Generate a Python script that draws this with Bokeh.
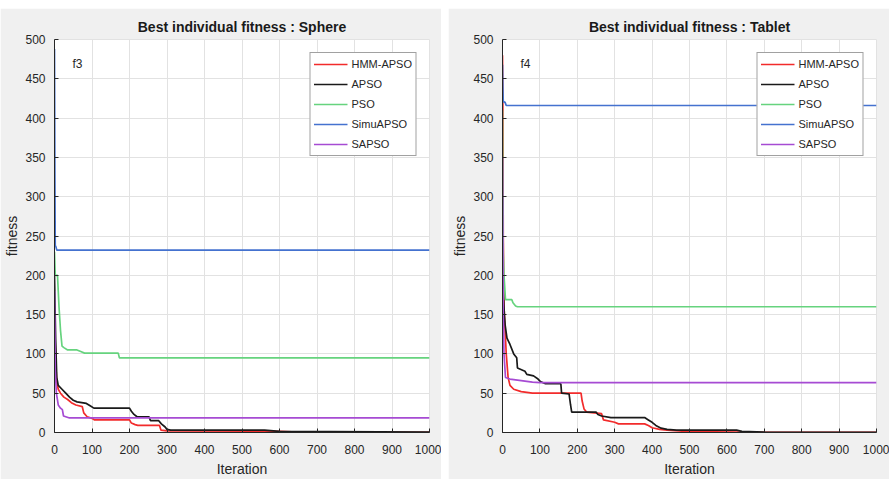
from bokeh.plotting import figure
from bokeh.layouts import row, column
from bokeh.models import Spacer, Label, SingleIntervalTicker, Range1d
from bokeh.embed import file_html
from bokeh.resources import INLINE

series_names = ["HMM-APSO", "APSO", "PSO", "SimuAPSO", "SAPSO"]
series_colors = ["#f22b2b", "#1a1a1a", "#66d37e", "#4472cf", "#a64bd3"]

x_ticks_step = 100
y_ticks_step = 50

# ---- Sphere (f3) ----
sph_hmm_x = [0, 3, 6, 10, 16, 25, 35, 45, 57, 74, 78, 87, 100, 107, 200, 205, 215, 222, 280, 284, 300, 600, 650, 1000]
sph_hmm_y = [150, 90, 65, 55, 50, 45, 42, 38, 35, 33, 25, 20, 18, 16, 16, 12, 10, 9, 9, 3, 2, 1.5, 0.5, 0.3]

sph_apso_x = [0, 3, 6, 10, 20, 30, 40, 50, 60, 85, 95, 105, 200, 205, 212, 220, 252, 256, 278, 285, 295, 300, 310, 560, 600, 1000]
sph_apso_y = [200, 120, 70, 60, 55, 50, 45, 41, 39, 37, 34, 31, 31, 27, 23, 20, 20, 15, 15, 11, 7, 4, 3, 3, 1.5, 0.5]

sph_pso_x = [0, 2, 8, 12, 16, 20, 25, 35, 60, 70, 80, 170, 173, 1000]
sph_pso_y = [230, 200, 200, 160, 130, 110, 108, 105, 105, 103, 101, 101, 95, 95]

sph_simu_x = [0, 1, 2, 4, 6, 1000]
sph_simu_y = [488, 330, 238, 236, 232, 232]

sph_sapso_x = [0, 2, 5, 10, 16, 21, 24, 40, 1000]
sph_sapso_y = [180, 80, 50, 35, 31, 29, 21, 18.5, 18.5]

# ---- Tablet (f4) ----
tab_hmm_x = [0, 1, 2, 4, 7, 10, 15, 20, 30, 50, 80, 210, 213, 218, 225, 265, 270, 300, 310, 380, 390, 400, 420, 440, 470, 500, 700, 1000]
tab_hmm_y = [480, 410, 250, 160, 130, 100, 70, 60, 55, 52, 50, 50, 40, 30, 26, 24, 16, 13, 11, 11, 9, 6, 4, 3, 2, 1, 0.3, 0.2]

tab_apso_x = [0, 2, 5, 7, 12, 20, 30, 38, 40, 60, 65, 83, 95, 101, 115, 156, 158, 178, 182, 185, 250, 255, 265, 290, 380, 390, 400, 410, 424, 440, 465, 626, 640, 700, 1000]
tab_apso_y = [300, 180, 150, 137, 120, 112, 100, 95, 82, 78, 74, 72, 68, 65, 62, 62, 50, 49, 35, 26, 26, 23, 21, 19, 19, 16, 13, 9, 5.5, 4, 3, 3, 1.5, 0.5, 0.3]

tab_pso_x = [0, 1, 2, 4, 8, 25, 28, 35, 40, 1000]
tab_pso_y = [410, 300, 230, 200, 169, 169, 165, 161, 160, 160]

tab_simu_x = [0, 1, 2, 7, 10, 1000]
tab_simu_y = [468, 440, 421, 420, 416, 416]

tab_sapso_x = [0, 1, 2, 4, 8, 20, 50, 80, 100, 1000]
tab_sapso_y = [350, 250, 150, 100, 70, 68, 66, 64, 63.5, 63.5]

FONT = "Liberation Sans"
TXT = "#262626"
FIG_H = 471


def make_panel(title, tag, data, width, bl, br):
    p = figure(width=width, height=FIG_H, output_backend="svg", toolbar_location=None, tools="",
               x_range=Range1d(0, 1000), y_range=Range1d(0, 500),
               min_border_left=bl, min_border_right=br, min_border_top=31, min_border_bottom=FIG_H + 8 - 432,
               background_fill_color="white", border_fill_color="#f0f0f0",
               outline_line_color="#e2e2e2")
    p.title.text = title
    p.title.align = "center"
    p.title.text_font = FONT
    p.title.text_font_size = "14px"
    p.title.text_font_style = "bold"
    p.title.text_color = "#1a1a1a"
    p.title.standoff = 9

    p.xaxis.ticker = SingleIntervalTicker(interval=x_ticks_step)
    p.yaxis.ticker = SingleIntervalTicker(interval=y_ticks_step)
    p.xaxis.axis_label = "Iteration"
    p.yaxis.axis_label = "fitness"
    for ax in (p.xaxis[0], p.yaxis[0]):
        ax.axis_label_text_font = FONT
        ax.axis_label_text_font_size = "14px"
        ax.axis_label_text_font_style = "normal"
        ax.axis_label_text_color = TXT
        ax.major_label_text_font = FONT
        ax.major_label_text_font_size = "12px"
        ax.major_label_text_color = TXT
        ax.axis_line_color = TXT
        ax.major_tick_line_color = TXT
        ax.major_tick_in = 4
        ax.major_tick_out = 0
        ax.minor_tick_line_color = None
    p.xaxis.major_label_standoff = 8
    p.xaxis.axis_label_standoff = 4
    p.yaxis.major_label_standoff = 5
    p.yaxis.axis_label_standoff = 2

    p.xgrid.grid_line_color = "#e2e2e2"
    p.ygrid.grid_line_color = "#e2e2e2"

    for name, color, (xs, ys) in zip(series_names, series_colors, data):
        p.line(xs, ys, line_color=color, line_width=1.7, legend_label=name)

    lg = p.legend[0]
    lg.location = "top_right"
    lg.margin = 13
    lg.padding = 3
    lg.spacing = 4
    lg.glyph_height = 16
    lg.label_height = 16
    lg.glyph_width = 34
    lg.label_standoff = 4
    lg.label_text_font = FONT
    lg.label_text_font_size = "11px"
    lg.label_text_color = TXT
    lg.border_line_color = "#444444"
    lg.border_line_width = 1
    lg.background_fill_color = "white"
    lg.background_fill_alpha = 1

    p.add_layout(Label(x=48, y=469, text=tag, text_font=FONT, text_font_size="12px",
                       text_color=TXT, text_baseline="middle"))
    return p


left = make_panel("Best individual fitness : Sphere", "f3",
                  [(sph_hmm_x, sph_hmm_y), (sph_apso_x, sph_apso_y), (sph_pso_x, sph_pso_y),
                   (sph_simu_x, sph_simu_y), (sph_sapso_x, sph_sapso_y)],
                  width=441, bl=54, br=12)
right = make_panel("Best individual fitness : Tablet", "f4",
                   [(tab_hmm_x, tab_hmm_y), (tab_apso_x, tab_apso_y), (tab_pso_x, tab_pso_y),
                    (tab_simu_x, tab_simu_y), (tab_sapso_x, tab_sapso_y)],
                   width=441, bl=54, br=13)

layout = column(Spacer(width=889, height=8),
                row(left, Spacer(width=7, height=FIG_H), right))
open("out.html", "w").write(file_html(layout, INLINE))
